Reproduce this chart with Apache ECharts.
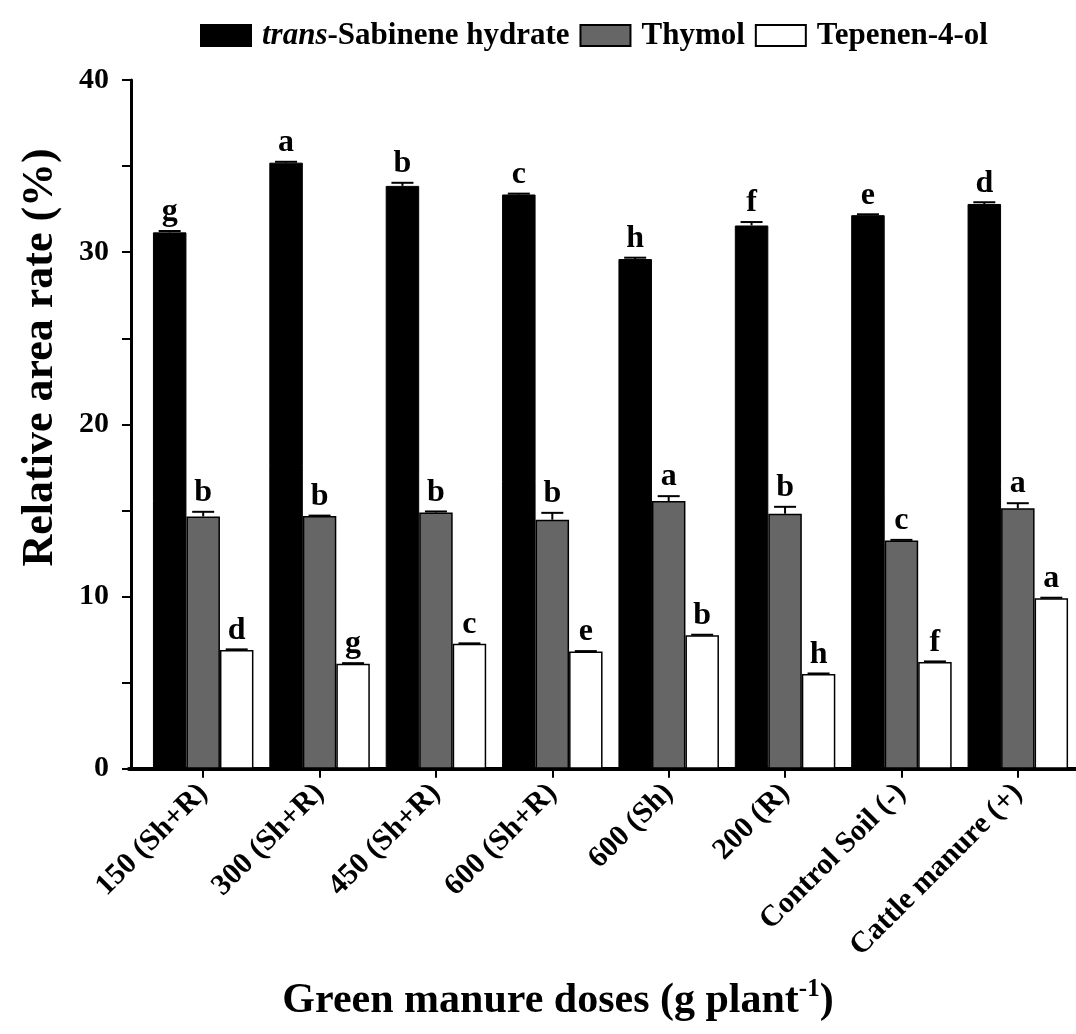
<!DOCTYPE html>
<html>
<head>
<meta charset="utf-8">
<script src="https://cdn.jsdelivr.net/npm/echarts@6/dist/echarts.min.js"></script>
<style>
html,body{margin:0;padding:0;background:#fff;}
#chart{width:1076px;height:1034px;}
</style>
</head>
<body>
<div id="chart"></div>
<script>
// ---- data ----
const categories = ['150 (Sh+R)', '300 (Sh+R)', '450 (Sh+R)', '600 (Sh+R)', '600 (Sh)', '200 (R)', 'Control Soil (-)', 'Cattle manure (+)'];
const seriesNames = ['trans-Sabinene hydrate', 'Thymol', 'Tepenen-4-ol'];
const sabinene = [31.15, 35.2, 33.85, 33.35, 29.6, 31.55, 32.15, 32.8];
const sabineneErr = [0.08, 0.05, 0.18, 0.05, 0.08, 0.2, 0.05, 0.1];
const sabineneLetters = ['g', 'a', 'b', 'c', 'h', 'f', 'e', 'd'];
const thymol = [14.65, 14.67, 14.88, 14.46, 15.55, 14.81, 13.26, 15.12];
const thymolErr = [0.27, 0.03, 0.06, 0.4, 0.28, 0.4, 0.03, 0.3];
const thymolLetters = ['b', 'b', 'b', 'b', 'a', 'b', 'c', 'a'];
const terpinen = [6.9, 6.1, 7.25, 6.8, 7.75, 5.5, 6.2, 9.9];
const terpinenErr = [0.03, 0.03, 0.03, 0.03, 0.03, 0.03, 0.03, 0.03];
const terpinenLetters = ['d', 'g', 'c', 'e', 'b', 'h', 'f', 'a'];
const yTicks = [0, 10, 20, 30, 40];

// ---- style ----
const FONT = "'Liberation Serif', 'Times New Roman', serif";
const BAR_W = 33.5;
const colors = ['#000000', '#666666', '#ffffff'];

const chart = echarts.init(document.getElementById('chart'), null, {renderer: 'canvas'});

function errSeries(values, errs, letters, slot) {
  return {
    type: 'custom',
    xAxisIndex: 0, yAxisIndex: 0,
    z: 5,
    silent: true,
    data: values.map((v, i) => [i, v, errs[i], letters[i]]),
    encode: {x: 0, y: 1},
    renderItem: function (params, api) {
      const i = api.value(0), v = api.value(1), e = api.value(2);
      const base = api.coord([i, v]);
      const top = api.coord([i, v + e]);
      const x = base[0] + (slot - 1) * BAR_W;
      const letter = letters[i];
      return {
        type: 'group',
        children: [
          {type: 'line', shape: {x1: x, y1: base[1], x2: x, y2: top[1]}, style: {stroke: '#000', lineWidth: 2}},
          {type: 'line', shape: {x1: x - 11, y1: top[1], x2: x + 11, y2: top[1]}, style: {stroke: '#000', lineWidth: 2}},
          {type: 'text', x: x, y: top[1] - 3, style: {text: letter, font: 'bold 32px ' + FONT, fill: '#000', align: 'center', verticalAlign: 'bottom'}}
        ]
      };
    }
  };
}

const option = {
  animation: false,
  backgroundColor: '#fff',
  textStyle: {fontFamily: FONT},
  legend: {
    data: seriesNames,
    left: 200, top: 20, padding: 0,
    icon: 'rect',
    itemWidth: 50, itemHeight: 21, itemGap: 10,
    selectedMode: false,
    formatter: function (name) {
      return name.indexOf('trans-') === 0 ? '{i|trans}{b|-Sabinene hydrate}' : '{b|' + name + '}';
    },
    textStyle: {
      fontFamily: FONT, fontSize: 31, fontWeight: 'bold', color: '#000', padding: [0, 0, 0, 6],
      rich: {
        i: {fontFamily: FONT, fontSize: 31, fontWeight: 'bold', fontStyle: 'italic', color: '#000'},
        b: {fontFamily: FONT, fontSize: 31, fontWeight: 'bold', color: '#000'}
      }
    }
  },
  grid: [
    {left: 145, right: -11, top: 80, bottom: 265.3, containLabel: false},
    {left: 129, right: 931, top: 80, bottom: 265.3, containLabel: false}
  ],
  xAxis: [
    {
      type: 'category', gridIndex: 0, data: categories,
      axisLine: {show: true, lineStyle: {color: '#000', width: 4}},
      axisTick: {show: true, alignWithLabel: true, length: 9, lineStyle: {color: '#000', width: 2}},
      axisLabel: {interval: 0, rotate: 45, margin: 20, fontFamily: FONT, fontSize: 30, fontWeight: 'bold', color: '#000'},
      splitLine: {show: false},
      name: '{a|Green manure doses (g plant}{s|-1}{a|)}',
      nameLocation: 'middle', nameGap: 208,
      nameTextStyle: {
        padding: [0, 105, 0, 0],
        rich: {
          a: {fontFamily: FONT, fontSize: 42, fontWeight: 'bold', color: '#000', lineHeight: 48},
          s: {fontFamily: FONT, fontSize: 25, fontWeight: 'bold', color: '#000', verticalAlign: 'top', lineHeight: 48}
        }
      }
    },
    {
      type: 'value', gridIndex: 1, min: 0, max: 1,
      axisLine: {show: true, onZero: false, lineStyle: {color: '#000', width: 4}},
      axisTick: {show: false}, axisLabel: {show: false}, splitLine: {show: false}
    }
  ],
  yAxis: [
    {
      type: 'value', gridIndex: 0, min: yTicks[0], max: yTicks[yTicks.length - 1], interval: 10,
      offset: 14,
      axisLine: {show: true, lineStyle: {color: '#000', width: 3}},
      axisTick: {show: true, length: 9, lineStyle: {color: '#000', width: 2}},
      minorTick: {show: true, splitNumber: 2, length: 9, lineStyle: {color: '#000', width: 2}},
      splitLine: {show: false},
      axisLabel: {margin: 22, fontFamily: FONT, fontSize: 30, fontWeight: 'bold', color: '#000'},
      name: 'Relative area rate (%)',
      nameLocation: 'middle', nameRotate: 90, nameGap: 68,
      nameTextStyle: {fontFamily: FONT, fontSize: 44, fontWeight: 'bold', color: '#000', padding: [0, 0, 0, 134]}
    },
    {type: 'value', gridIndex: 1, show: false, min: 0, max: 1}
  ],
  series: [
    {name: seriesNames[0], type: 'bar', data: sabinene, barWidth: BAR_W, barGap: '0%',
     itemStyle: {color: colors[0], borderColor: '#000', borderWidth: 1}},
    {name: seriesNames[1], type: 'bar', data: thymol, barWidth: BAR_W, barGap: '0%',
     itemStyle: {color: colors[1], borderColor: '#000', borderWidth: 1.5}},
    {name: seriesNames[2], type: 'bar', data: terpinen, barWidth: BAR_W, barGap: '0%',
     itemStyle: {color: colors[2], borderColor: '#000', borderWidth: 1.5}},
    errSeries(sabinene, sabineneErr, sabineneLetters, 0),
    errSeries(thymol, thymolErr, thymolLetters, 1),
    errSeries(terpinen, terpinenErr, terpinenLetters, 2)
  ]
};
chart.setOption(option);
</script>
</body>
</html>
